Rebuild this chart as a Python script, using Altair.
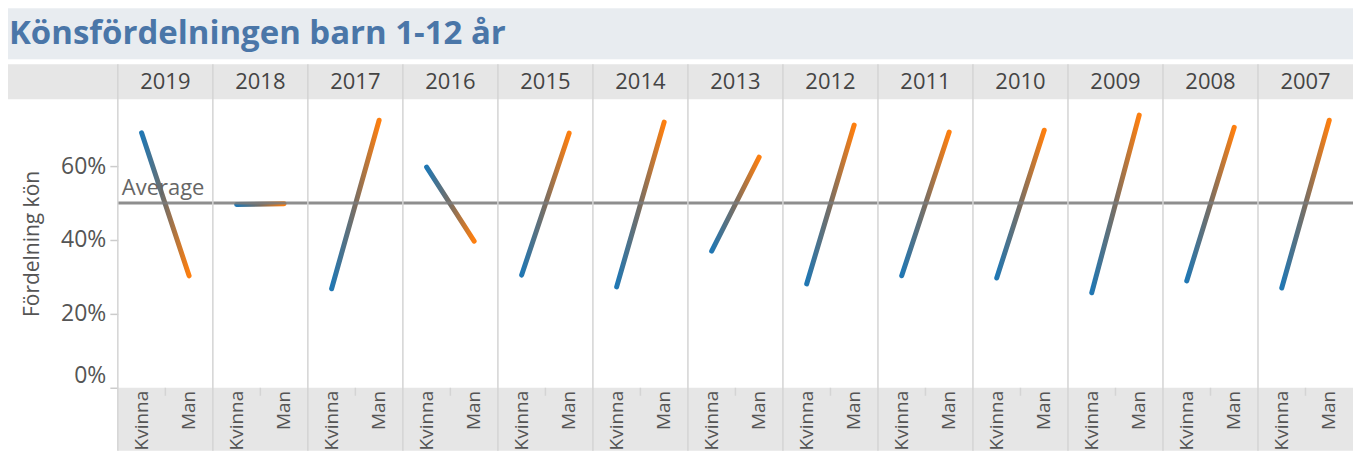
import altair as alt
import pandas as pd

# ---------------- data ----------------
years = [2019, 2018, 2017, 2016, 2015, 2014, 2013, 2012, 2011, 2010, 2009, 2008, 2007]
kvinna = [0.69, 0.496, 0.268, 0.597, 0.305, 0.273, 0.37, 0.281, 0.303, 0.297, 0.257, 0.289, 0.27]
man = [0.303, 0.498, 0.724, 0.397, 0.689, 0.719, 0.624, 0.711, 0.692, 0.697, 0.738, 0.705, 0.724]
genders = ["Kvinna", "Man"]
y_ticks = [0, 0.2, 0.4, 0.6]
avg_value = 0.5
avg_label = "Average"
title_text = "Könsfördelningen barn 1-12 år"
y_title = "Fördelning kön"

rows = []
for i, (yr, k, m) in enumerate(zip(years, kvinna, man)):
    for j, (g, v) in enumerate(zip(genders, [k, m])):
        rows.append({"year": str(yr), "gender": g, "value": v, "pos": i + 0.25 + 0.5 * j})
df = pd.DataFrame(rows)

cols = pd.DataFrame({
    "year": [str(y) for y in years],
    "edge": list(range(len(years))),
    "mid": [i + 0.5 for i in range(len(years))],
})
one = pd.DataFrame({"t": [title_text], "avg": [avg_value], "label": [avg_label]})

# ---------------- layout ----------------
LEFT = 110          # room left of the plot area (axis + band overhang)
W = 1347 - LEFT     # plot width so the whole chart fits the window
H = 289
BOTTOM = 63
FONT = "Open Sans"
ncol = len(years)

xscale = alt.Scale(domain=[0, ncol], nice=False, zero=False)
yscale = alt.Scale(domain=[0, 0.781], nice=False, zero=True)
yaxis = alt.Axis(values=y_ticks, format=".0%", title=y_title, grid=False, domain=False,
                 tickColor="#cccccc", tickSize=8, tickWidth=1.5, labelFontSize=23,
                 labelColor="#555555", labelFont=FONT, labelPadding=4, labelFlush=True,
                 titleFont=FONT, titleFontSize=21, titleFontWeight="normal",
                 titleColor="#555555", titlePadding=18)

base_one = alt.Chart(one)

title_band = base_one.mark_rect(fill="#e8ecf0").encode(
    x=alt.value(-LEFT), x2=alt.value(W), y=alt.value(-91), y2=alt.value(-40))
title_txt = base_one.mark_text(align="left", baseline="middle", font=FONT, fontSize=33,
                               fontWeight="bold", color="#4a76a8").encode(
    x=alt.value(-LEFT + 1), y=alt.value(-65), text="t:N")

header_band = base_one.mark_rect(fill="#e6e6e6").encode(
    x=alt.value(-LEFT), x2=alt.value(W), y=alt.value(-35), y2=alt.value(0))
bottom_band = base_one.mark_rect(fill="#e6e6e6").encode(
    x=alt.value(0), x2=alt.value(W), y=alt.value(H), y2=alt.value(H + BOTTOM))

year_txt = alt.Chart(cols).mark_text(font=FONT, fontSize=22, color="#444444",
                                     baseline="middle").encode(
    x=alt.X("mid:Q", scale=xscale, axis=None), y=alt.value(-17), text="year:N")

grad = alt.LinearGradient(
    gradient="linear",
    stops=[alt.GradientStop(color="#1f77b4", offset=0),
           alt.GradientStop(color="#7a6e62", offset=0.5),
           alt.GradientStop(color="#ff7f0e", offset=1)],
    x1=0, x2=1, y1=0, y2=0)

lines = alt.Chart(df).mark_line(strokeWidth=5, strokeCap="round", color=grad).encode(
    x=alt.X("pos:Q", scale=xscale, axis=None),
    y=alt.Y("value:Q", scale=yscale, axis=yaxis),
    detail="year:N")

avg_rule = base_one.mark_rule(color="#7a7a7a", strokeWidth=3, opacity=0.85).encode(
    y=alt.Y("avg:Q", scale=yscale, axis=yaxis))
avg_txt = base_one.mark_text(align="left", baseline="alphabetic", dy=-8, font=FONT,
                             fontSize=22, color="#666666").encode(
    x=alt.value(4), y=alt.Y("avg:Q", scale=yscale, axis=yaxis), text="label:N")

separators = alt.Chart(cols).mark_rule(color="#d4d4d4", strokeWidth=1.5).encode(
    x=alt.X("edge:Q", scale=xscale, axis=None), y=alt.value(-35), y2=alt.value(H + BOTTOM))
small_ticks = alt.Chart(cols).mark_rule(color="#d4d4d4", strokeWidth=1.5).encode(
    x=alt.X("mid:Q", scale=xscale, axis=None), y=alt.value(H), y2=alt.value(H + 8))

bottom_labels = alt.Chart(df).mark_text(angle=270, align="right", baseline="middle",
                                        font=FONT, fontSize=19, color="#555555").encode(
    x=alt.X("pos:Q", scale=xscale, axis=None), y=alt.value(H + 3), text="gender:N")

chart = alt.layer(
    title_band, title_txt, header_band, bottom_band, year_txt,
    lines, avg_rule, avg_txt, separators, small_ticks, bottom_labels
).properties(width=W, height=H, padding=0).configure_view(strokeWidth=0)

chart.save("out.html", embed_options={"renderer": "svg", "actions": False})
